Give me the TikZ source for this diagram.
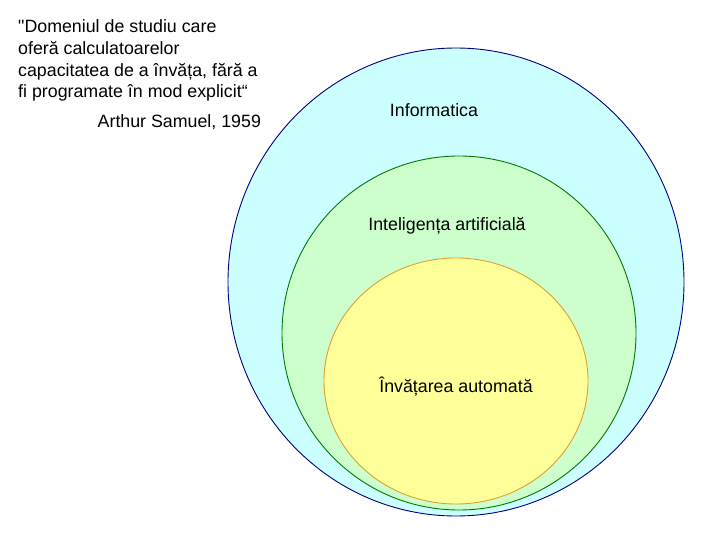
\documentclass[tikz,border=0pt]{standalone}
\usepackage{fontspec}
\setmainfont{Liberation Sans}[Ligatures=TeXOff]
\usetikzlibrary{shapes.geometric}
\definecolor{cyanfill}{HTML}{CCFFFF}
\definecolor{cyanline}{HTML}{000080}
\definecolor{greenfill}{HTML}{CCFFCC}
\definecolor{greenline}{HTML}{007A00}
\definecolor{yellowfill}{HTML}{FFFF99}
\definecolor{yellowline}{HTML}{E0A030}
\tikzset{
  blob/.style={ellipse, inner sep=0pt, line width=0.9pt},
  lbl/.style={inner sep=0pt, anchor=base, font=\fontsize{17.8}{21.7}\selectfont},
}
\begin{document}
\begin{tikzpicture}[x=1pt,y=-1pt]
\useasboundingbox (0,0) rectangle (720,540);
\node[blob, draw=cyanline, fill=cyanfill, minimum width=456pt, minimum height=468pt] (info) at (456,282) {};
\node[blob, draw=greenline, fill=greenfill, minimum width=354pt, minimum height=354pt] (ai) at (459,333) {};
\node[blob, draw=yellowline, fill=yellowfill, minimum width=264pt, minimum height=246pt] (ml) at (456,381) {};
\node[lbl] (tinfo) at (434,117) {Informatica};
\node[lbl] (tai) at (447,230.7) {Inteligența artificială};
\node[lbl] (tml) at (456,392) {Învățarea automată};
\node[inner sep=0pt, anchor=north west, align=left, font=\fontsize{17.8}{21.7}\selectfont] (quote) at (18,19.8)
  {"Domeniul de studiu care\\oferă calculatoarelor\\capacitatea de a învăța, fără a\\fi programate în mod explicit“};
\node[lbl, anchor=base west] (author) at (97.5,128) {Arthur Samuel, 1959};
\end{tikzpicture}
\end{document}
